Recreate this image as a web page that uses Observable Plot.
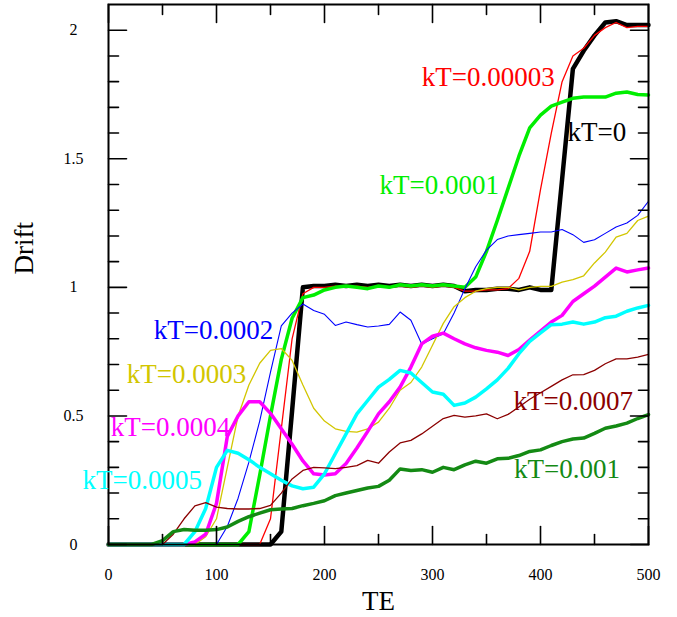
<!DOCTYPE html>
<html><head><meta charset="utf-8">
<script src="https://cdn.jsdelivr.net/npm/d3@7"></script>
<script src="https://cdn.jsdelivr.net/npm/@observablehq/plot@0.6"></script>
<style>body{margin:0;background:#fff;} #chart{width:677px;height:617px;}</style>
</head><body><div id="chart"></div>
<script>
const te = [0,10,20,30,40,50,60,70,80,90,100,110,120,130,140,150,160,170,180,190,200,210,220,230,240,250,260,270,280,290,300,310,320,330,340,350,360,370,380,390,400,410,420,430,440,450,460,470,480,490,500];

const kT0 = [0,0,0,0,0,0,0,0,0,0,0,0,0,0,0,0,0.05,0.52,1.0,1.005,1.005,1.01,1.005,1.01,1.005,1.01,1.005,1.01,1.005,1.01,1.005,1.01,1.005,0.985,0.99,0.99,0.995,0.995,0.99,1.0,0.99,0.99,1.42,1.85,1.92,1.98,2.03,2.035,2.02,2.02,2.02];
const kT00003 = [0,0,0,0,0,0,0,0,0,0,0,0,0,0,0,0.1,0.45,0.8,0.975,1.0,1.0,1.005,1.0,1.005,1.0,1.005,1.0,1.005,1.0,1.005,1.0,1.005,1.0,0.985,0.985,0.99,0.99,0.995,1.035,1.14,1.38,1.6,1.8,1.9,1.93,1.98,2.01,2.03,2.01,2.015,2.015];
const kT0001 = [0,0,0,0,0,0,0,0,0,0,0,0,0,0.05,0.27,0.5,0.72,0.88,0.96,0.97,0.99,1.0,1.005,1.0,0.995,1.005,1.0,1.01,1.005,1.01,1.005,1.01,1.005,1.0,1.04,1.14,1.26,1.385,1.51,1.62,1.67,1.705,1.72,1.735,1.74,1.74,1.74,1.755,1.76,1.75,1.748];
const kT0002 = [0,0,0,0,0,0,0,0,0,0,0,0.07,0.18,0.32,0.48,0.67,0.85,0.9,0.935,0.91,0.895,0.852,0.865,0.855,0.846,0.85,0.856,0.904,0.872,0.78,0.8,0.82,0.9,0.995,1.08,1.145,1.186,1.2,1.205,1.21,1.215,1.215,1.225,1.205,1.175,1.185,1.21,1.235,1.25,1.28,1.335];
const kT0003 = [0,0,0,0,0,0,0,0,0,0.03,0.1,0.3,0.5,0.62,0.705,0.755,0.762,0.716,0.62,0.53,0.48,0.45,0.44,0.437,0.45,0.476,0.53,0.6,0.63,0.69,0.775,0.86,0.925,0.96,0.985,0.995,1.0,1.0,0.99,1.0,1.004,1.004,1.02,1.03,1.045,1.095,1.137,1.195,1.21,1.26,1.277];
const kT0004 = [0,0,0,0,0,0,0,0,0.01,0.04,0.16,0.42,0.5,0.555,0.555,0.51,0.45,0.39,0.325,0.275,0.27,0.275,0.315,0.375,0.44,0.508,0.555,0.612,0.69,0.78,0.81,0.822,0.8,0.78,0.765,0.755,0.748,0.735,0.758,0.795,0.83,0.865,0.891,0.945,0.975,1.005,1.04,1.075,1.06,1.068,1.075];
const kT0005 = [0,0,0,0,0,0,0,0,0.05,0.14,0.3,0.366,0.355,0.33,0.3,0.275,0.25,0.228,0.217,0.223,0.275,0.353,0.43,0.508,0.56,0.612,0.642,0.677,0.667,0.63,0.593,0.584,0.541,0.55,0.573,0.605,0.64,0.685,0.742,0.79,0.823,0.855,0.857,0.865,0.857,0.865,0.882,0.888,0.907,0.92,0.93];
const kT0007 = [0,0,0,0,0,0,0.04,0.1,0.15,0.163,0.145,0.14,0.138,0.138,0.14,0.152,0.2,0.255,0.288,0.3,0.298,0.295,0.3,0.307,0.327,0.316,0.36,0.395,0.405,0.43,0.46,0.49,0.502,0.495,0.5,0.508,0.489,0.506,0.535,0.565,0.59,0.615,0.64,0.66,0.661,0.677,0.703,0.722,0.722,0.729,0.739];
const kT001 = [0,0,0,0,0,0.015,0.05,0.058,0.055,0.055,0.058,0.068,0.09,0.108,0.122,0.135,0.138,0.14,0.151,0.16,0.17,0.19,0.2,0.21,0.22,0.226,0.25,0.294,0.288,0.291,0.281,0.3,0.291,0.31,0.324,0.316,0.333,0.335,0.346,0.362,0.368,0.385,0.4,0.41,0.414,0.432,0.452,0.461,0.472,0.49,0.505];

const seriesNames = ["kT=0","kT=0.00003","kT=0.0001","kT=0.0002","kT=0.0003","kT=0.0004","kT=0.0005","kT=0.0007","kT=0.001"];
const seriesValues = [kT0,kT00003,kT0001,kT0002,kT0003,kT0004,kT0005,kT0007,kT001];

// label anchor positions (data units, left edge of text)
const labelX = [425, 290, 251, 42, 17, 2, -24, 375, 375.5];
const labelY = [1.603, 1.818, 1.395, 0.833, 0.66, 0.454, 0.249, 0.556, 0.291];

const xMajor = [0,100,200,300,400,500];
const xMinor = [50,150,250,350,450];
const yMajor = [0,0.5,1,1.5,2];
const yMinor = [0.1,0.2,0.3,0.4,0.6,0.7,0.8,0.9,1.1,1.2,1.3,1.4,1.6,1.7,1.8,1.9];

// styles
const colors = ["#000000","#ff0000","#00ee00","#0000ff","#d2c600","#ff00ff","#00ffff","#8b0000","#148a14"];
const widths = [4.5,1.3,3.5,1.1,1.3,3.5,3.5,1.3,3.5];

const tickShape = {draw(context, l) { context.moveTo(0, 0); context.lineTo(0, -l); }};

const marks = [];
seriesValues.forEach((vals, i) => {
  const rows = te.map((x, j) => ({x, y: vals[j]}));
  marks.push(Plot.line(rows, {x: "x", y: "y", stroke: colors[i], strokeWidth: widths[i], strokeLinejoin: "round"}));
});
marks.push(Plot.frame({stroke: "#000", strokeWidth: 2}));
// inward ticks on all four sides
const tk = {shape: tickShape, anchor: "start", stroke: "#000", strokeWidth: 1.6};
[[xMajor, 18], [xMinor, 10]].forEach(([vals, len]) => {
  marks.push(Plot.vector(vals, {...tk, x: d => d, frameAnchor: "bottom", rotate: 0, length: len}));
  marks.push(Plot.vector(vals, {...tk, x: d => d, frameAnchor: "top", rotate: 180, length: len}));
});
[[yMajor, 18], [yMinor, 10]].forEach(([vals, len]) => {
  marks.push(Plot.vector(vals, {...tk, y: d => d, frameAnchor: "left", rotate: 90, length: len}));
  marks.push(Plot.vector(vals, {...tk, y: d => d, frameAnchor: "right", rotate: -90, length: len}));
});
// tick labels
marks.push(Plot.axisX({anchor: "bottom", ticks: xMajor, tickSize: 0, tickPadding: 24, label: null, fontSize: 16, tickFormat: d => String(d)}));
marks.push(Plot.axisY({anchor: "left", ticks: yMajor, tickSize: 0, tickPadding: 35, textAnchor: "middle", label: null, fontSize: 16, tickFormat: d => String(d)}));
// axis titles
marks.push(Plot.text(["TE"], {frameAnchor: "bottom", dy: 57, text: d => d, fontSize: 27, lineAnchor: "middle"}));
marks.push(Plot.text(["Drift"], {frameAnchor: "left", dx: -84, rotate: -90, text: d => d, fontSize: 27, lineAnchor: "middle"}));
// series labels
marks.push(Plot.text(seriesNames, {x: (d, i) => labelX[i], y: (d, i) => labelY[i], text: d => d, fill: (d, i) => colors[i], textAnchor: "start", lineAnchor: "middle", fontSize: 27}));

const chart = Plot.plot({
  width: 677, height: 617,
  marginLeft: 108, marginRight: 29, marginTop: 4, marginBottom: 73,
  x: {domain: [0, 500], label: null},
  y: {domain: [0, 2.1], label: null},
  color: {type: "identity"},
  style: {fontFamily: "'Liberation Serif', 'DejaVu Serif', serif", fontSize: "16px", background: "#fff", color: "#000"},
  marks
});
document.getElementById("chart").appendChild(chart);
</script>
</body></html>
